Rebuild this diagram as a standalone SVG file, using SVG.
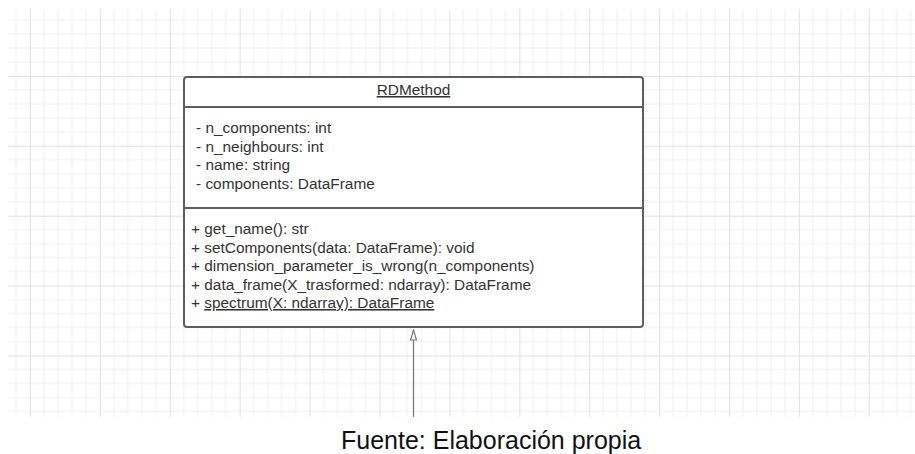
<svg xmlns="http://www.w3.org/2000/svg" width="915" height="454" viewBox="0 0 915 454">
  <style>
    .uml { font-family: "Liberation Sans", Arial, sans-serif; font-size: 15.4px; fill: #333333; }
    .ul { text-decoration: underline; }
    .box { fill: #ffffff; stroke: #5e5e5e; stroke-width: 2; }
    .sep { stroke: #5e5e5e; stroke-width: 2; }
    .edge { stroke: #7a7a7a; stroke-width: 1.3; fill: none; }
    .caption { font-family: "Liberation Sans", Arial, sans-serif; font-size: 25px; fill: #111111; }
  </style>
  <defs>
    <pattern id="grid" x="30" y="6" width="69.9" height="69.9" patternUnits="userSpaceOnUse">
      <path d="M13.98 0V69.9M27.96 0V69.9M41.94 0V69.9M55.92 0V69.9M0 13.98H69.9M0 27.96H69.9M0 41.94H69.9M0 55.92H69.9" stroke="#f0f0f0" stroke-width="1" fill="none"/>
      <path d="M0.5 0V69.9M0 0.5H69.9" stroke="#e2e2e2" stroke-width="1" fill="none"/>
    </pattern>
    <!-- hollow generalization triangle, drawn along +x (line direction) -->
    <marker id="inherit" viewBox="0 0 12 12" refX="11" refY="6" markerWidth="12" markerHeight="12" markerUnits="userSpaceOnUse" orient="auto">
      <path d="M11 6L1 3V9Z" fill="#ffffff" stroke="#7a7a7a" stroke-width="1.2" stroke-linejoin="miter"/>
    </marker>
  </defs>

  <!-- drawing canvas grid -->
  <rect x="0" y="0" width="915" height="454" fill="#ffffff"/>
  <rect x="8" y="9" width="907" height="408" fill="url(#grid)"/>

  <!-- class RDMethod -->
  <g id="RDMethod">
    <rect class="box" x="184" y="77" width="459" height="250" rx="3"/>
    <line class="sep" x1="184" y1="107" x2="643" y2="107"/>
    <line class="sep" x1="184" y1="208" x2="643" y2="208"/>
    <text class="uml ul" x="413.5" y="95" text-anchor="middle">RDMethod</text>
    <text class="uml" x="196" y="133">- n_components: int</text>
    <text class="uml" x="196" y="151.5">- n_neighbours: int</text>
    <text class="uml" x="196" y="170">- name: string</text>
    <text class="uml" x="196" y="188.5">- components: DataFrame</text>
    <text class="uml" x="191" y="234">+ get_name(): str</text>
    <text class="uml" x="191" y="252.5">+ setComponents(data: DataFrame): void</text>
    <text class="uml" x="191" y="271">+ dimension_parameter_is_wrong(n_components)</text>
    <text class="uml" x="191" y="289.5">+ data_frame(X_trasformed: ndarray): DataFrame</text>
    <text class="uml" x="191" y="308">+ <tspan class="ul">spectrum(X: ndarray): DataFrame</tspan></text>
  </g>

  <!-- connectors -->
  <g id="connectors">
    <line class="edge" x1="413.5" y1="417" x2="413.5" y2="330" marker-end="url(#inherit)"/>
  </g>

  <text class="caption" x="341" y="449">Fuente: Elaboración propia</text>
</svg>
